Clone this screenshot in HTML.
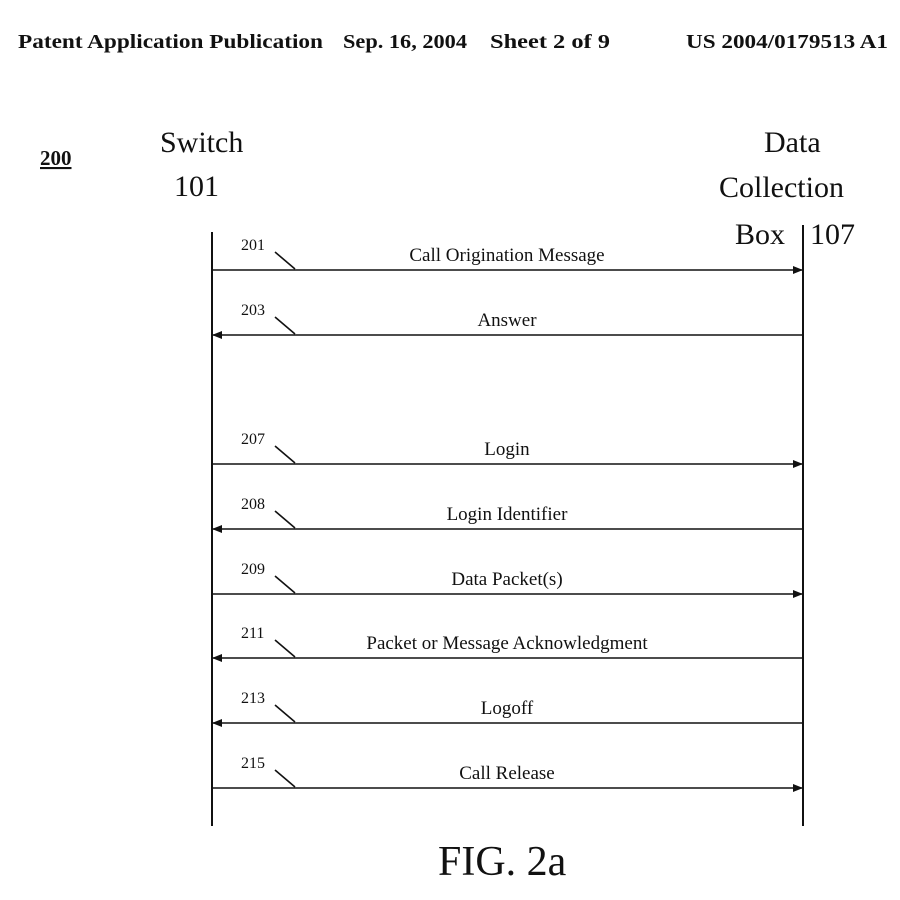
<!DOCTYPE html>
<html><head><meta charset="utf-8"><style>
html,body{margin:0;padding:0;background:#fff;}
svg{display:block;}
text{font-family:"Liberation Serif",serif;fill:#111;}
</style></head><body>
<svg width="900" height="900" viewBox="0 0 900 900" xmlns="http://www.w3.org/2000/svg">
<defs>
<marker id="ar" markerWidth="10" markerHeight="8" refX="9" refY="4" orient="auto" markerUnits="userSpaceOnUse">
<path d="M0,0 L10,4 L0,8 z" fill="#111"/></marker>
</defs>
<g font-size="20" font-weight="bold">
<text x="18" y="48" textLength="305" lengthAdjust="spacingAndGlyphs">Patent Application Publication</text>
<text x="343" y="48" textLength="124" lengthAdjust="spacingAndGlyphs">Sep. 16, 2004</text>
<text x="490" y="48" textLength="120" lengthAdjust="spacingAndGlyphs">Sheet 2 of 9</text>
<text x="686" y="48" textLength="202" lengthAdjust="spacingAndGlyphs">US 2004/0179513 A1</text>
</g>

<text x="40" y="165" font-size="21" font-weight="bold" text-decoration="underline">200</text>
<text x="160" y="152" font-size="30">Switch</text>
<text x="174" y="196" font-size="30">101</text>
<text x="764" y="152" font-size="30">Data</text>
<text x="719" y="197" font-size="30">Collection</text>
<text x="735" y="244" font-size="30">Box</text>
<text x="810" y="244" font-size="30">107</text>

<line x1="212" y1="232" x2="212" y2="826" stroke="#111" stroke-width="2"/>
<line x1="803" y1="225" x2="803" y2="826" stroke="#111" stroke-width="2"/>

<g stroke="#111" stroke-width="1.6" fill="none">
<line x1="213" y1="270" x2="802" y2="270" marker-end="url(#ar)"/>
<line x1="802" y1="335" x2="213" y2="335" marker-end="url(#ar)"/>
<line x1="213" y1="464" x2="802" y2="464" marker-end="url(#ar)"/>
<line x1="802" y1="529" x2="213" y2="529" marker-end="url(#ar)"/>
<line x1="213" y1="594" x2="802" y2="594" marker-end="url(#ar)"/>
<line x1="802" y1="658" x2="213" y2="658" marker-end="url(#ar)"/>
<line x1="802" y1="723" x2="213" y2="723" marker-end="url(#ar)"/>
<line x1="213" y1="788" x2="802" y2="788" marker-end="url(#ar)"/>
<line x1="275" y1="252" x2="295" y2="269"/>
<line x1="275" y1="317" x2="295" y2="334"/>
<line x1="275" y1="446" x2="295" y2="463"/>
<line x1="275" y1="511" x2="295" y2="528"/>
<line x1="275" y1="576" x2="295" y2="593"/>
<line x1="275" y1="640" x2="295" y2="657"/>
<line x1="275" y1="705" x2="295" y2="722"/>
<line x1="275" y1="770" x2="295" y2="787"/>
</g>

<g font-size="16">
<text x="241" y="250">201</text>
<text x="241" y="315">203</text>
<text x="241" y="444">207</text>
<text x="241" y="509">208</text>
<text x="241" y="574">209</text>
<text x="241" y="638">211</text>
<text x="241" y="703">213</text>
<text x="241" y="768">215</text>
</g>
<g font-size="19" text-anchor="middle">
<text x="507" y="261">Call Origination Message</text>
<text x="507" y="326">Answer</text>
<text x="507" y="455">Login</text>
<text x="507" y="520">Login Identifier</text>
<text x="507" y="585">Data Packet(s)</text>
<text x="507" y="649">Packet or Message Acknowledgment</text>
<text x="507" y="714">Logoff</text>
<text x="507" y="779">Call Release</text>
</g>
<text x="438" y="875" font-size="42">FIG. 2a</text>
</svg>
</body></html>
